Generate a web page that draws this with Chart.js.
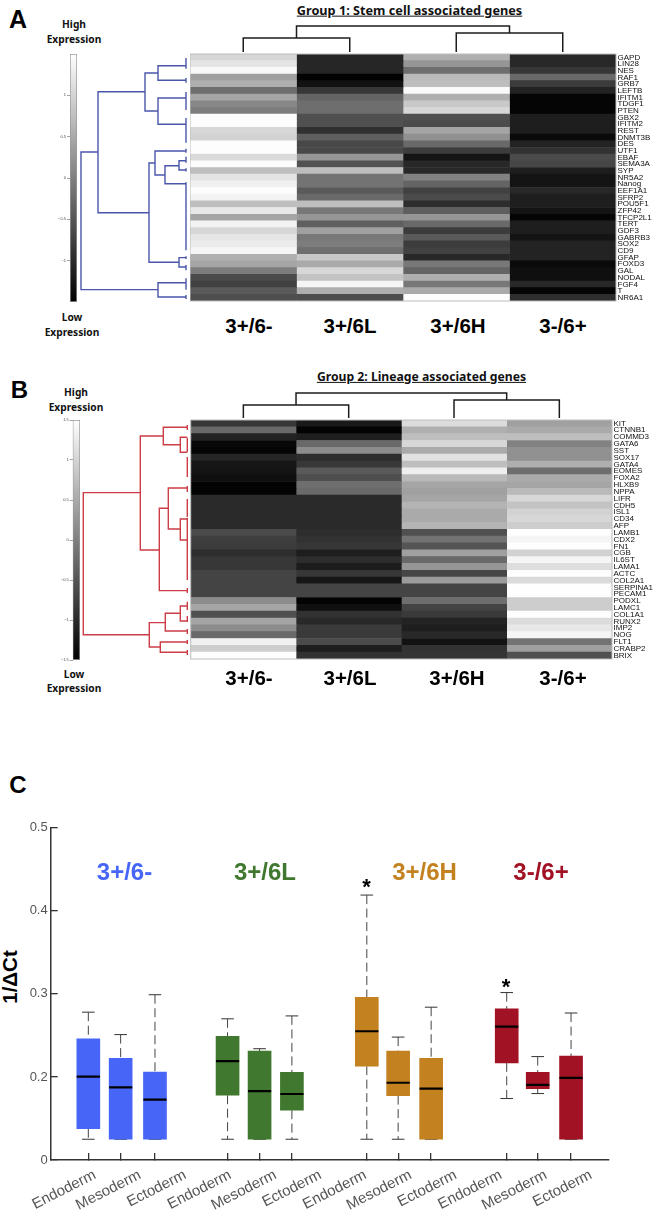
<!DOCTYPE html>
<html><head><meta charset="utf-8">
<style>
html,body{margin:0;padding:0;background:#fff;width:654px;height:1210px;overflow:hidden}
canvas{position:absolute;display:block}
.t{position:absolute;transform:translate(-50%,-50%);white-space:nowrap;line-height:1}
</style>
<script src="https://cdn.jsdelivr.net/npm/chart.js@4"></script>
</head><body>
<script>
// ---------- DATA ----------
const conditions = ['3+/6-','3+/6L','3+/6H','3-/6+'];
const genesA = ['GAPD','LIN28','NES','RAF1','GRB7','LEFTB','IFITM1','TDGF1','PTEN','GBX2','IFITM2','REST','DNMT3B','DES','UTF1','EBAF','SEMA3A','SYP','NR5A2','Nanog','EEF1A1','SFRP2','POU5F1','ZFP42','TFCP2L1','TERT','GDF3','GABRB3','SOX2','CD9','GFAP','FOXD3','GAL','NODAL','FGF4','T','NR6A1'];
// heat levels (0 = low, 255 = high)
const heatA1 = [215,228,248,160,175,110,165,135,125,253,253,215,210,253,253,218,252,190,228,240,253,243,190,232,165,243,215,230,235,245,175,165,125,75,65,90,78];
const heatA2 = [38,38,38,3,18,55,100,110,110,80,80,48,95,72,72,150,82,190,115,115,90,105,190,120,150,95,160,120,125,110,200,170,215,195,245,175,78];
const heatA3 = [175,150,110,185,190,250,175,200,215,80,75,165,145,105,60,20,40,40,130,100,65,75,45,95,150,105,60,90,60,65,40,120,100,175,120,170,253];
const heatA4 = [40,40,55,105,60,35,5,5,5,30,30,30,10,35,50,75,70,30,20,20,40,30,30,20,5,30,30,20,35,35,35,10,15,15,40,5,45];
const genesB = ['KIT','CTNNB1','COMMD3','GATA6','SST','SOX17','GATA4','EOMES','FOXA2','HLXB9','NPPA','LIFR','CDH5','ISL1','CD34','AFP','LAMB1','CDX2','FN1','CGB','IL6ST','LAMA1','ACTC','COL2A1','SERPINA1','PECAM1','PODXL','LAMC1','COL1A1','RUNX2','IMP2','NOG','FLT1','CRABP2','BRIX'];
const heatB1 = [55,105,35,8,5,38,22,20,15,3,3,42,42,42,42,42,75,62,60,45,55,55,68,68,68,68,140,165,80,165,140,105,240,205,253];
const heatB2 = [25,3,30,105,140,45,55,90,78,110,105,42,42,42,42,42,45,50,55,30,45,28,55,22,68,68,3,15,50,40,58,58,75,30,50];
const heatB3 = [220,175,190,215,170,225,190,238,185,165,160,165,180,170,170,180,80,115,85,160,105,150,70,155,68,68,110,68,58,35,30,40,18,50,52];
const heatB4 = [160,170,190,130,145,145,175,110,170,165,185,215,195,210,215,205,254,245,254,210,245,222,254,218,254,254,205,205,254,220,232,245,115,160,80];
// row dendrograms: [merge distance, top row, bottom row, top child distance, bottom child distance]
const rowLinksA = [[105,14.68,35.3,88,28],[88,5.65,23.77,41,37],[41,2.85,8.54,28,28],[28,1.75,3.94,0,0],[28,6.59,10.53,0,0],[37,16.33,31.2,31,7],[31,14.53,18.12,0,21],[21,16.73,19.43,7,0],[7,15.98,17.38,0,0],[7,30.51,31.9,0,0],[28,34.26,36.4,0,0]];
const rowLeavesA = [[0.6,2.2],[3.6,4.3],[5.7,8.4],[9.6,13.3],[14.2,14.8],[15.4,16.3],[17.1,17.6],[19.2,29.4],[30.3,30.7],[31.6,32.4],[33.6,35.3],[36.1,36.7]];
const rowLinksB = [[104,10.64,31.44,47,38],[47,2.34,19.03,24,28],[24,1.07,3.62,0,7],[7,2.53,4.73,0,0],[28,12.93,24.99,19,0],[19,9.96,15.96,0,7],[7,14.49,17.57,0,0],[38,29.68,33.24,22,27],[22,28.3,30.89,7,0],[7,27.23,29.43,0,0],[27,32.5,34.01,0,0]];
const rowLeavesB = [[0.73,1.46],[2.64,4.69],[5.42,8.35],[9.66,10.54],[11.57,14.2],[14.35,17.13],[17.13,23.43],[24.6,25.33],[26.6,27.82],[28.7,29.58],[30.6,31.33],[32.2,32.8],[33.67,34.4]];
// column dendrograms: [merge height, left col, right col, left child height, right child height]
const colLinksA = [[28,1,3,16,21],[16,0.5,1.5,2,2],[21,2.5,3.5,2,2]];
const colLinksB = [[27,1,3,15,20],[15,0.5,1.5,2,2],[20,2.5,3.5,2,2]];
const colorTicksA = [-1,-0.5,0,0.5,1];
const colorTicksB = [-1.5,-1,-0.5,0,0.5,1,1.5];
// panel C
const boxLabels = ['Endoderm','Mesoderm','Ectoderm','Endoderm','Mesoderm','Ectoderm','Endoderm','Mesoderm','Ectoderm','Endoderm','Mesoderm','Ectoderm'];
const boxPositions = [1.14,2.12,3.16,5.36,6.33,7.31,9.58,10.53,11.53,13.82,14.76,15.77];
const boxHigh   = [.278,.251,.299,.27,.234,.2735,.419,.248,.284,.3016,.2245,.277];
const boxQ3     = [.246,.2225,.206,.249,.231,.2056,.296,.231,.2225,.282,.2056,.225];
const boxMedian = [.2004,.1875,.1727,.219,.183,.1795,.255,.193,.186,.2606,.1904,.1988];
const boxQ1     = [.1377,.125,.125,.178,.125,.16,.213,.1775,.125,.217,.186,.125];
const boxLow    = [.125,.125,.125,.125,.125,.125,.125,.125,.125,.174,.18,.125];
const yTickValues = [0.1,0.2,0.3,0.4,0.5];
const yTickLabels = ['0','0.2','0.3','0.4','0.5'];
const groupColors = ['#4766f8','#41782f','#c48120','#a01224'];

// ---------- HELPERS ----------
Chart.defaults.animation = false;
Chart.defaults.responsive = false;
Chart.defaults.maintainAspectRatio = false;
Chart.defaults.devicePixelRatio = 1;
Chart.defaults.font.family = '"Liberation Sans", Arial, sans-serif';
Chart.defaults.plugins.legend.display = false;
Chart.defaults.plugins.tooltip.enabled = false;

function mount(left, top, w, h, config){
  const c = document.createElement('canvas');
  c.width = w; c.height = h;
  c.style.left = left+'px'; c.style.top = top+'px';
  c.style.width = w+'px'; c.style.height = h+'px';
  document.body.appendChild(c);
  return new Chart(c, config);
}
function text(str, x, y, css){
  const d = document.createElement('div');
  d.className = 't'; d.textContent = str;
  d.style.left = x+'px'; d.style.top = y+'px'; d.style.cssText += css;
  document.body.appendChild(d);
}
const gray = v => `rgb(${v},${v},${v})`;
const frame = {id:'frame', afterDatasetsDraw(ch){
  const a = ch.chartArea, x = ch.ctx;
  x.save(); x.strokeStyle='#bdbdbd'; x.lineWidth=1;
  x.strokeRect(a.left,a.top,a.right-a.left,a.bottom-a.top); x.restore();
}};
function heatmap(left, top, w, h, pad, rightW, genes, cols){
  mount(left, top, w, h, {
    type:'bar', plugins:[frame],
    data:{labels:genes, datasets:cols.map((col,i)=>({
      label:conditions[i], data:genes.map(()=>1),
      backgroundColor:col.map(gray), barPercentage:1, categoryPercentage:1, borderWidth:0
    }))},
    options:{indexAxis:'y', layout:{padding:pad},
      scales:{
        x:{stacked:true,min:0,max:4,display:false},
        y:{stacked:true,position:'right',grid:{display:false,drawTicks:false},border:{display:false},
           afterFit:s=>{s.width=rightW;},
           ticks:{autoSkip:false,padding:1.5,font:{size:8},color:'#111',maxRotation:0,minRotation:0}}
      }}
  });
}
function linkPoints(links, leaves, horizontal){
  const pts=[]; const gap={x:NaN,y:NaN};
  const P = horizontal ? (d,r)=>({x:d,y:r}) : (d,r)=>({x:r,y:d});
  links.forEach(([m,a,b,da,db])=>{pts.push(P(da,a),P(m,a),P(m,b),P(db,b),gap);});
  (leaves||[]).forEach(([a,b])=>{pts.push(P(0,a),P(0,b),gap);});
  return pts;
}
function rowDendro(left, top, w, h, rows, dMin, dMax, links, leaves, color, pad){
  mount(left, top, w, h, {
    type:'scatter',
    data:{datasets:[{data:linkPoints(links,leaves,true),showLine:true,pointRadius:0,borderColor:color,borderWidth:1.4,spanGaps:false}]},
    options:{layout:{padding:pad||0},scales:{
      x:{type:'linear',min:dMin,max:dMax,reverse:true,display:false},
      y:{type:'linear',min:0,max:rows,reverse:true,display:false}}}
  });
}
function colDendro(left, top, w, h, links, hMax, pad){
  mount(left, top, w, h, {
    type:'scatter',
    data:{datasets:[{data:linkPoints(links,null,false),showLine:true,pointRadius:0,borderColor:'#1c1c1c',borderWidth:1.5,spanGaps:false}]},
    options:{layout:{padding:pad||0},scales:{
      x:{type:'linear',min:0,max:4,display:false},
      y:{type:'linear',min:0,max:hMax,display:false}}}
  });
}
function colorbar(left, top, w, h, yW, tickList){
  mount(left, top, w, h, {
    type:'bar',
    data:{labels:['scale'],datasets:[{data:[[-1.5,1.5]],barPercentage:1,categoryPercentage:1,
      borderWidth:1,borderColor:'#9a9a9a',borderSkipped:false,
      backgroundColor:(c)=>{const a=c.chart.chartArea; if(!a) return '#888';
        const g=c.chart.ctx.createLinearGradient(0,a.top,0,a.bottom);
        g.addColorStop(0,'#ffffff'); g.addColorStop(1,'#000000'); return g;}}]},
    options:{layout:{padding:{top:4,bottom:4}},scales:{
      x:{display:false},
      y:{min:-1.5,max:1.5,grid:{drawOnChartArea:false,tickLength:3,color:'#666',lineWidth:.6},border:{display:false},
        afterBuildTicks:s=>{s.ticks=tickList.map(v=>({value:v}));},
        afterFit:s=>{s.width=yW;},
        ticks:{font:{size:4},color:'#444',padding:1,callback:v=>String(v).replace('-','\u2212')}}}}
  });
}

// ---------- PANEL A ----------
const labelFont = 'font-family:"Noto Sans",sans-serif;font-weight:700;color:#111;';
text('A',18,19,'font:700 25px "Liberation Sans";color:#000');
text('Group 1: Stem cell associated genes',409.5,10,labelFont+'font-size:12.7px;text-decoration:underline');
text('High',74,24,labelFont+'font-size:10.2px');
text('Expression',74,39,labelFont+'font-size:10.2px');
text('Low',72,317,labelFont+'font-size:10.2px');
text('Expression',72,332,labelFont+'font-size:10.2px');
colorbar(50,50,27,256,20,colorTicksA);
rowDendro(70,54,120,247,genesA.length,-4,116,rowLinksA,rowLeavesA,'#4a56aa');
colDendro(190,20,426,34,colLinksA,34);
heatmap(190,44,464,267,{top:10,bottom:10},38,genesA,[heatA1,heatA2,heatA3,heatA4]);
[249,350,458,563].forEach((x,i)=>text(conditions[i],x,326,'font:700 20.5px "Liberation Sans";color:#000'));

// ---------- PANEL B ----------
text('B',19.5,390,'font:700 24px "Liberation Sans";color:#000');
text('Group 2: Lineage associated genes',421.5,377,labelFont+'font-size:12.2px;text-decoration:underline');
text('High',76,392,labelFont+'font-size:10.2px');
text('Expression',76,407,labelFont+'font-size:10.2px');
text('Low',74,674,labelFont+'font-size:10.2px');
text('Expression',74,688,labelFont+'font-size:10.2px');
colorbar(50,416,30,248,22.7,colorTicksB);
rowDendro(70,420,121,239,genesB.length,-3.7,117.3,rowLinksB,rowLeavesB,'#cc3d46');
colDendro(190,385,422,35,colLinksB,35,{left:.7});
heatmap(190,410,464,259,{top:10,bottom:10,left:.7},42,genesB,[heatB1,heatB2,heatB3,heatB4]);
[249,350,457,563].forEach((x,i)=>text(conditions[i],x,678,'font:700 20.5px "Liberation Sans";color:#000'));

// ---------- PANEL C ----------
text('C',18,785,'font:700 24px "Liberation Sans";color:#000');
text('1/\u0394Ct',10,977,'font:700 20.5px "Liberation Sans";color:#000;transform:translate(-50%,-50%) rotate(-90deg)');
const whisker=[], caps=[];
boxPositions.forEach((x,i)=>{
  whisker.push({x,y:boxHigh[i]},{x,y:boxQ3[i]},{x:NaN,y:NaN},{x,y:boxQ1[i]},{x,y:boxLow[i]},{x:NaN,y:NaN});
  caps.push({x,y:boxHigh[i]},{x,y:boxLow[i]});
});
mount(0,810,654,400,{
  type:'bar',
  data:{datasets:[
    {type:'scatter',label:'Median',order:0,data:boxPositions.map((x,i)=>({x,y:boxMedian[i]})),
     pointStyle:'line',pointRadius:11.6,pointBorderWidth:2.2,pointBorderColor:'#000',xAxisID:'x',yAxisID:'y'},
    {type:'bar',label:'Box',order:1,data:boxPositions.map((x,i)=>({x,y:[boxQ1[i],boxQ3[i]]})),
     backgroundColor:boxPositions.map((_,i)=>groupColors[Math.floor(i/3)]),barThickness:23,borderWidth:0,grouped:false,xAxisID:'x',yAxisID:'y'},
    {type:'line',label:'Whisker',order:2,data:whisker,borderColor:'#444',borderWidth:1,borderDash:[9,4.5],pointRadius:0,spanGaps:false,xAxisID:'x',yAxisID:'y'},
    {type:'scatter',label:'Cap',order:3,data:caps,pointStyle:'line',pointRadius:6.3,pointBorderWidth:1,pointBorderColor:'#333',xAxisID:'x',yAxisID:'y'}
  ]},
  options:{
    layout:{padding:{top:17.7,right:45}},
    scales:{
      x:{type:'linear',position:'bottom',weight:0,min:0,max:16.92,offset:false,
         grid:{offset:false,drawOnChartArea:false,tickLength:-7,color:'#333',lineWidth:1.3},
         border:{color:'#333',width:1.5},
         afterBuildTicks:s=>{s.ticks=boxPositions.map(v=>({value:v}));},
         afterFit:s=>{s.height=1;},
         ticks:{display:false}},
      x2:{type:'linear',position:'bottom',weight:1,min:0.018,max:12.397,offset:false,
         grid:{display:false,offset:false},border:{display:false},
         afterBuildTicks:s=>{s.ticks=boxLabels.map((_,i)=>({value:i+1}));},
         afterFit:s=>{s.height=49;},
         ticks:{autoSkip:false,minRotation:27,maxRotation:27,padding:-3,font:{size:15},color:'#555',
                callback:v=>boxLabels[v-1]}},
      y:{type:'linear',min:0.1,max:0.5,
         grid:{drawOnChartArea:false,tickLength:-7,color:'#333',lineWidth:1.3},
         border:{color:'#333',width:1.5},
         afterBuildTicks:s=>{s.ticks=yTickValues.map(v=>({value:v}));},
         afterFit:s=>{s.width=50.7;},
         ticks:{padding:10,font:{size:13},color:'#555',
                callback:v=>yTickLabels[yTickValues.indexOf(v)]}}
    }}
});
const cXs=[124.5,265,424.5,541];
conditions.forEach((c,i)=>text(c,cXs[i],872,`font:700 24px "Liberation Sans";color:${groupColors[i]}`));
text('*',366.5,887,'font:700 22px "Liberation Sans";color:#000');
text('*',506,987,'font:700 22px "Liberation Sans";color:#000');
</script>
</body></html>
